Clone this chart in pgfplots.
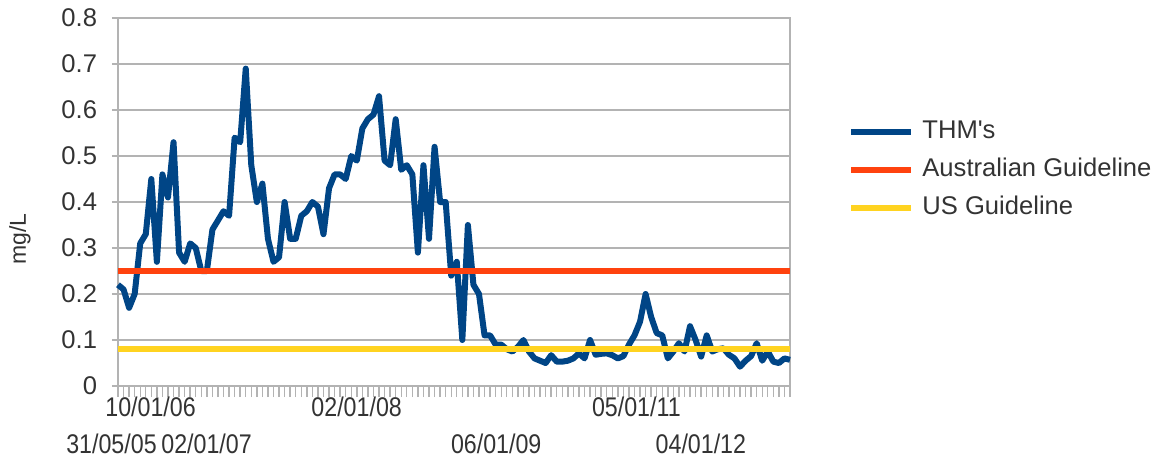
\documentclass[border=0pt]{standalone}
\usepackage{pgfplots}
\pgfplotsset{compat=1.18}
\usepackage{pgfplotstable}
\usepackage{fontspec}
\setmainfont{Liberation Sans}

\definecolor{thm}{HTML}{004586}
\definecolor{aus}{HTML}{FF420E}
\definecolor{usg}{HTML}{FFD320}
\definecolor{gridc}{HTML}{B3B3B3}
\definecolor{txt}{HTML}{333333}

% THM sample index vs mg/L
\pgfplotstableread{
i v
0 0.22
1 0.21
2 0.17
3 0.20
4 0.31
5 0.33
6 0.45
7 0.27
8 0.46
9 0.41
10 0.53
11 0.29
12 0.27
13 0.31
14 0.30
15 0.25
16 0.25
17 0.34
18 0.36
19 0.38
20 0.37
21 0.54
22 0.53
23 0.69
24 0.48
25 0.40
26 0.44
27 0.32
28 0.27
29 0.28
30 0.40
31 0.32
32 0.32
33 0.37
34 0.38
35 0.40
36 0.39
37 0.33
38 0.43
39 0.46
40 0.46
41 0.45
42 0.50
43 0.49
44 0.56
45 0.58
46 0.59
47 0.63
48 0.49
49 0.48
50 0.58
51 0.47
52 0.48
53 0.46
54 0.29
55 0.48
56 0.32
57 0.52
58 0.40
59 0.40
60 0.24
61 0.27
62 0.10
63 0.35
64 0.22
65 0.20
66 0.11
67 0.11
68 0.09
69 0.09
70 0.08
71 0.075
72 0.085
73 0.10
74 0.075
75 0.06
76 0.055
77 0.05
78 0.067
79 0.053
80 0.053
81 0.055
82 0.06
83 0.071
84 0.06
85 0.10
86 0.068
87 0.07
88 0.071
89 0.067
90 0.06
91 0.065
92 0.09
93 0.11
94 0.14
95 0.20
96 0.15
97 0.115
98 0.11
99 0.06
100 0.075
101 0.093
102 0.075
103 0.13
104 0.10
105 0.064
106 0.11
107 0.075
108 0.08
109 0.082
110 0.068
111 0.06
112 0.042
113 0.055
114 0.065
115 0.093
116 0.055
117 0.075
118 0.053
119 0.05
120 0.06
121 0.057
}\thmdata

\tikzset{datelab/.style={text=txt, font=\fontsize{13.5}{15}\selectfont, inner sep=0pt}}
\newcommand\dl[1]{\scalebox{0.86}[1]{#1}}

\begin{document}
\begin{tikzpicture}
\begin{axis}[
  scale only axis, width=336pt, height=184pt,
  xmin=0, xmax=121, ymin=0, ymax=0.8,
  clip=false,
  axis line style={gridc, line width=0.8pt},
  xtick={0,...,121}, xticklabels={},
  ytick={0,0.1,...,0.8},
  xtick pos=bottom, ytick pos=left, tick align=outside,
  xtick style={gridc, line width=0.7pt, /pgfplots/major tick length=5.5pt},
  ytick style={gridc, line width=0.8pt, /pgfplots/major tick length=3pt},
  ymajorgrids, grid style={gridc, line width=0.8pt},
  yticklabel style={font=\fontsize{12.8}{14}\selectfont, text=txt, inner sep=0pt, xshift=-6pt},
  /pgf/number format/assume math mode=true,
  /pgf/number format/fixed, /pgf/number format/precision=1,
  ylabel={mg/L},
  every axis y label/.style={at={(axis description cs:-0.146,0.40)}, rotate=90, anchor=center, font=\fontsize{11.5}{13}\selectfont, text=txt},
  legend style={at={(axis description cs:1.0863,0.587)}, anchor=west, draw=none, fill=none,
    inner sep=0pt, row sep=7.5pt, column sep=0pt,
    font=\fontsize{12.8}{14}\selectfont, text=txt,
    nodes={inner sep=0pt, text height=9pt, text depth=2.5pt}},
  legend cell align=left,
  legend image code/.code={\draw[#1] (0pt,0pt) -- (30pt,0pt); \path (34pt,0pt);},
]
\addplot[thm, line width=3pt, line join=round, no markers] table[x=i, y=v] {\thmdata};
\addlegendentry{THM\textquotesingle s}
\addplot[aus, line width=2.8pt, no markers] coordinates {(0,0.25) (121,0.25)};
\addlegendentry{Australian Guideline}
\addplot[usg, line width=2.8pt, no markers] coordinates {(0,0.08) (121,0.08)};
\addlegendentry{US Guideline}

\node[datelab, yshift=-10.5pt] at (axis cs:5.86,0) {\dl{10/01/06}};
\node[datelab, yshift=-10.5pt] at (axis cs:42.97,0) {\dl{02/01/08}};
\node[datelab, yshift=-10.5pt] at (axis cs:93.33,0) {\dl{05/01/11}};
\node[datelab, yshift=-29pt] at (axis cs:-1.17,0) {\dl{31/05/05}};
\node[datelab, yshift=-29pt] at (axis cs:15.95,0) {\dl{02/01/07}};
\node[datelab, yshift=-29pt] at (axis cs:68.1,0) {\dl{06/01/09}};
\node[datelab, yshift=-29pt] at (axis cs:104.95,0) {\dl{04/01/12}};
\end{axis}
\pgfresetboundingbox
\path[use as bounding box] (-59pt,-40.5pt) rectangle (521pt,193pt);
\end{tikzpicture}
\end{document}
